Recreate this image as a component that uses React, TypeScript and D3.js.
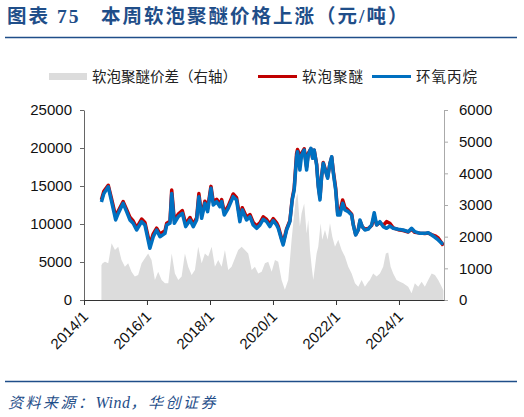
import { useEffect, useRef } from 'react'
import * as d3 from 'd3'

// weekly price readings (元/吨)
const lineDates = [
  '2014-07-22', '2014-08-19', '2014-10-09', '2014-11-17', '2015-01-03', '2015-02-02', '2015-03-31', '2015-05-10',
  '2015-06-17', '2015-07-25', '2015-09-03', '2015-10-31', '2015-12-08', '2016-02-04', '2016-03-14', '2016-04-22',
  '2016-05-31', '2016-07-28', '2016-08-17', '2016-09-24', '2016-10-14', '2016-11-13', '2016-12-29', '2017-02-14',
  '2017-03-25', '2017-05-14', '2017-06-21', '2017-07-30', '2017-08-25', '2017-09-26', '2017-11-03', '2017-12-04',
  '2018-01-12', '2018-02-08', '2018-03-19', '2018-04-26', '2018-05-16', '2018-06-15', '2018-07-31', '2018-09-27',
  '2018-11-05', '2018-12-13', '2019-01-10', '2019-03-01', '2019-04-09', '2019-05-17', '2019-06-26', '2019-08-03',
  '2019-09-10', '2019-10-19', '2019-11-26', '2020-01-04', '2020-02-12', '2020-03-02', '2020-04-10', '2020-04-28',
  '2020-06-07', '2020-07-15', '2020-08-11', '2020-09-03', '2020-10-01', '2020-10-12', '2020-11-08', '2020-11-28',
  '2020-12-28', '2021-01-25', '2021-02-13', '2021-03-16', '2021-04-05', '2021-04-23', '2021-05-21', '2021-06-09',
  '2021-06-29', '2021-07-18', '2021-08-06', '2021-09-03', '2021-09-26', '2021-10-23', '2021-11-12', '2021-12-01',
  '2021-12-28', '2022-01-20', '2022-02-16', '2022-03-19', '2022-04-14', '2022-05-23', '2022-07-01', '2022-07-20',
  '2022-08-17', '2022-09-16', '2022-10-06', '2022-11-01', '2022-12-02', '2023-01-10', '2023-02-18', '2023-03-20',
  '2023-04-17', '2023-05-25', '2023-07-02', '2023-08-10', '2023-09-17', '2023-10-26', '2023-12-23', '2024-02-19',
  '2024-04-17', '2024-05-26', '2024-07-03', '2024-08-31', '2024-10-27', '2024-12-05', '2025-01-14', '2025-02-21',
  '2025-03-31', '2025-05-10', '2025-05-30',
]

const polyether = [
  13200, 14300, 15100, 13300, 11000, 11700, 12950, 11900,
  10900, 10400, 9500, 10650, 10200, 7300, 8700, 9450,
  8700, 9100, 10100, 10350, 14470, 10500, 11300, 11750,
  10000, 10850, 9950, 10800, 14000, 11100, 13000, 12000,
  14950, 12900, 13250, 12600, 13200, 11550, 12350, 13950,
  13450, 10800, 12150, 10900, 11250, 10200, 9750, 10150,
  10950, 10600, 10000, 10700, 10150, 9700, 8100, 7500,
  9350, 10450, 13300, 14700, 19300, 19800, 19000, 19300,
  19900, 17500, 19300, 19900, 18700, 19700, 17900, 15100,
  13500, 16300, 18100, 17000, 16200, 18000, 18800, 16900,
  14700, 11500, 11700, 13160, 12200, 11800, 11300, 9950,
  8600, 9250, 10400, 9650, 9300, 9400, 9800, 11000,
  9900, 10200, 9800, 10310, 10100, 9500, 9250, 9150,
  8950, 9300, 8900, 8800, 8750, 8800, 8600, 8450,
  8150, 7500, 7150,
]

const propyleneOxide = [
  12900, 14000, 14900, 12940, 10530, 11400, 12720, 11620,
  10530, 10090, 9210, 10310, 9870, 6800, 8330, 9210,
  8330, 8770, 9870, 10090, 14000, 10090, 10960, 11400,
  9650, 10530, 9650, 10530, 13600, 10750, 12720, 11620,
  14690, 12500, 12940, 12280, 12940, 11180, 12060, 13600,
  13160, 10310, 11840, 10530, 10960, 9870, 9430, 9870,
  10620, 10310, 9650, 10440, 9870, 9430, 7900, 7240,
  9210, 10310, 13160, 14470, 18860, 19520, 17100, 19080,
  19740, 17100, 19080, 19960, 18640, 19740, 17760, 14910,
  13160, 16220, 17980, 16880, 16010, 17980, 18860, 16670,
  14470, 11180, 11180, 12720, 11840, 11620, 11180, 9870,
  8550, 9210, 10530, 9650, 9210, 9320, 9870, 11490,
  9870, 10310, 9650, 9430, 9740, 9430, 9300, 9210,
  8990, 9430, 8990, 8770, 8770, 8860, 8550, 8250,
  7900, 7460, 7450,
]

// 软泡聚醚价差（右轴）
const spreadDates = [
  '2014-07-22', '2014-08-04', '2014-09-01', '2014-10-09', '2014-11-17', '2014-12-26', '2015-02-02', '2015-03-12',
  '2015-04-20', '2015-05-28', '2015-07-06', '2015-08-13', '2015-09-21', '2015-10-31', '2015-12-08', '2016-01-15',
  '2016-02-23', '2016-04-02', '2016-05-10', '2016-06-19', '2016-07-28', '2016-09-04', '2016-10-14', '2016-11-20',
  '2016-12-29', '2017-02-06', '2017-03-16', '2017-04-23', '2017-06-02', '2017-07-10', '2017-08-17', '2017-09-26',
  '2017-11-03', '2017-12-11', '2018-01-20', '2018-02-27', '2018-04-06', '2018-05-16', '2018-06-23', '2018-07-31',
  '2018-09-08', '2018-10-17', '2018-11-24', '2019-01-03', '2019-02-10', '2019-03-20', '2019-04-29', '2019-06-06',
  '2019-07-14', '2019-08-23', '2019-09-30', '2019-11-07', '2019-12-17', '2020-01-24', '2020-03-02', '2020-04-10',
  '2020-05-18', '2020-06-26', '2020-08-04', '2020-08-23', '2020-09-20', '2020-10-12', '2020-11-08', '2020-11-28',
  '2020-12-28', '2021-01-25', '2021-02-13', '2021-03-05', '2021-03-25', '2021-04-12', '2021-05-02', '2021-05-21',
  '2021-06-09', '2021-07-07', '2021-07-25', '2021-08-26', '2021-09-26', '2021-10-23', '2021-11-19', '2021-12-20',
  '2022-01-27', '2022-03-07', '2022-04-14', '2022-05-23', '2022-07-01', '2022-08-09', '2022-09-16', '2022-10-25',
  '2022-12-02', '2023-01-10', '2023-01-29', '2023-03-08', '2023-04-17', '2023-05-25', '2023-07-02', '2023-08-02',
  '2023-08-29', '2023-09-26', '2023-10-26', '2023-12-04', '2024-01-12', '2024-02-19', '2024-04-17', '2024-05-26',
  '2024-07-03', '2024-08-11', '2024-09-20', '2024-10-27', '2024-12-05', '2025-01-14', '2025-02-21', '2025-03-31',
  '2025-05-10', '2025-05-30',
]

const spread = [
  1100, 1160, 1210, 1160, 1790, 1580, 1680, 1260,
  1050, 1160, 895, 740, 790, 1160, 1320, 1470,
  1260, 630, 895, 630, 530, 530, 1470, 840,
  630, 740, 1470, 1050, 790, 950, 1680, 1160,
  1470, 1370, 1680, 1050, 1260, 1050, 1580, 950,
  1050, 1320, 1580, 1680, 1580, 1470, 950, 1050,
  840, 895, 1160, 1210, 895, 1260, 1210, 630,
  320, 630, 1900, 2420, 3160, 3370, 2320, 2740,
  3050, 2100, 2530, 1580, 1050, 630, 1050, 1470,
  1680, 2420, 1900, 2210, 1900, 2420, 2000, 1680,
  1900, 1580, 1370, 1050, 840, 530, 420, 630,
  420, 580, 630, 840, 740, 840, 1050, 1470,
  1500, 1050, 840, 630, 580, 530, 420, 210,
  530, 420, 580, 420, 630, 840, 790, 630,
  420, 300,
]

const leftTicks = [0, 5000, 10000, 15000, 20000, 25000]
const rightTicks = [0, 1000, 2000, 3000, 4000, 5000, 6000]
const xTickYears = [2014, 2016, 2018, 2020, 2022, 2024]

const NAVY = '#1f4e89'
const RED = '#c00000'
const BLUE = '#0070c0'
const GREY = '#dcdcdc'
const CJK = '"Noto Sans CJK SC", sans-serif'
const NUM = '"Liberation Sans", Arial, sans-serif'

export default function App() {
  const svgRef = useRef<SVGSVGElement>(null)

  useEffect(() => {
    if (!svgRef.current) return
    const width = 524
    const height = 417
    const m = { top: 110, right: 80, bottom: 117, left: 84 }
    const iW = width - m.left - m.right
    const iH = height - m.top - m.bottom

    const svg = d3.select(svgRef.current)
    svg.selectAll('*').remove()
    svg.attr('width', width).attr('height', height)

    const parse = d3.timeParse('%Y-%m-%d')
    const lineData = lineDates.map((d, i) => ({ date: parse(d)!, pe: polyether[i], po: propyleneOxide[i] }))
    const spreadData = spreadDates.map((d, i) => ({ date: parse(d)!, v: spread[i] }))

    // title + rules
    svg.append('text').attr('x', 7).attr('y', 23).attr('fill', NAVY).attr('font-size', '19.5px').attr('font-weight', 'bold')
      .attr('font-family', `"Liberation Serif", ${CJK}`).attr('letter-spacing', '2px')
      .text('图表 75\u00a0\u00a0\u00a0本周软泡聚醚价格上涨（元/吨）')
    svg.append('line').attr('x1', 5).attr('x2', 517).attr('y1', 37.5).attr('y2', 37.5).attr('stroke', NAVY).attr('stroke-width', 1.5)
    svg.append('line').attr('x1', 5).attr('x2', 517).attr('y1', 381.5).attr('y2', 381.5).attr('stroke', NAVY).attr('stroke-width', 1.5)
    const src = svg.append('text').attr('x', 8).attr('y', 408).attr('fill', NAVY).attr('font-size', '15px').attr('font-style', 'italic')
      .attr('font-family', `"Liberation Serif", ${CJK}`)
    src.append('tspan').attr('letter-spacing', '2.5px').text('资料来源：')
    src.append('tspan').attr('letter-spacing', '0.5px').attr('font-size', '16px').text('Wind')
    src.append('tspan').attr('letter-spacing', '2.5px').text('，华创证券')

    // legend
    const lg = svg.append('g').attr('font-family', CJK).attr('font-size', '14.5px').attr('fill', '#222')
    lg.append('rect').attr('x', 49).attr('y', 73).attr('width', 38).attr('height', 7).attr('fill', GREY)
    lg.append('text').attr('x', 92).attr('y', 81.5).text('软泡聚醚价差（右轴）')
    lg.append('line').attr('x1', 258).attr('x2', 297).attr('y1', 76.5).attr('y2', 76.5).attr('stroke', RED).attr('stroke-width', 3)
    lg.append('text').attr('x', 302).attr('y', 81.5).attr('letter-spacing', '1px').text('软泡聚醚')
    lg.append('line').attr('x1', 372).attr('x2', 411).attr('y1', 76.5).attr('y2', 76.5).attr('stroke', BLUE).attr('stroke-width', 3)
    lg.append('text').attr('x', 416).attr('y', 81.5).attr('letter-spacing', '1px').text('环氧丙烷')

    const g = svg.append('g').attr('transform', `translate(${m.left},${m.top})`)

    const x = d3.scaleTime().domain([new Date(2014, 0, 1), new Date(2025, 5, 6)]).range([0, iW])
    const yL = d3.scaleLinear().domain([0, 25000]).range([iH, 0])
    const yR = d3.scaleLinear().domain([0, 6000]).range([iH, 0])

    // spread area (right axis)
    g.append('path').datum(spreadData).attr('fill', GREY)
      .attr('d', d3.area<{ date: Date; v: number }>().x(d => x(d.date)).y0(iH).y1(d => yR(d.v)))

    // lines
    g.append('path').datum(lineData).attr('fill', 'none').attr('stroke', RED).attr('stroke-width', 3.5).attr('stroke-linejoin', 'round')
      .attr('d', d3.line<typeof lineData[number]>().x(d => x(d.date)).y(d => yL(d.pe)))
    g.append('path').datum(lineData).attr('fill', 'none').attr('stroke', BLUE).attr('stroke-width', 3.5).attr('stroke-linejoin', 'round')
      .attr('d', d3.line<typeof lineData[number]>().x(d => x(d.date)).y(d => yL(d.po)))

    const style = (color: string) => (ax: d3.Selection<SVGGElement, unknown, null, undefined>) => {
      ax.select('.domain').attr('stroke', color)
      ax.selectAll('.tick line').attr('stroke', color)
      ax.selectAll('.tick text').attr('fill', '#111').attr('font-size', '15px').attr('font-family', NUM)
    }

    // left axis
    g.append('g').call(d3.axisLeft(yL).tickValues(leftTicks).tickSize(4).tickSizeOuter(0).tickPadding(8).tickFormat(d => String(d)))
      .call(style('#666'))

    // right axis
    g.append('g').attr('transform', `translate(${iW},0)`)
      .call(d3.axisRight(yR).tickValues(rightTicks).tickSize(4).tickSizeOuter(0).tickPadding(11).tickFormat(d => String(d)))
      .call(style('#aaa'))

    // bottom axis
    g.append('g').attr('transform', `translate(0,${iH})`)
      .call(d3.axisBottom(x).tickValues(xTickYears.map(yr => new Date(yr, 0, 1))).tickSize(5).tickSizeOuter(0)
        .tickFormat(d => `${(d as Date).getFullYear()}/1`))
      .call(style('#333'))
      .call(ax => ax.selectAll('.tick text').attr('text-anchor', 'end').attr('x', 0).attr('y', 0).attr('dx', 0).attr('dy', '0.35em')
        .attr('transform', 'translate(1,14) rotate(-45)'))
  }, [])

  return <svg ref={svgRef} style={{ position: 'absolute', left: 0, top: 0, background: '#fff' }} />
}
